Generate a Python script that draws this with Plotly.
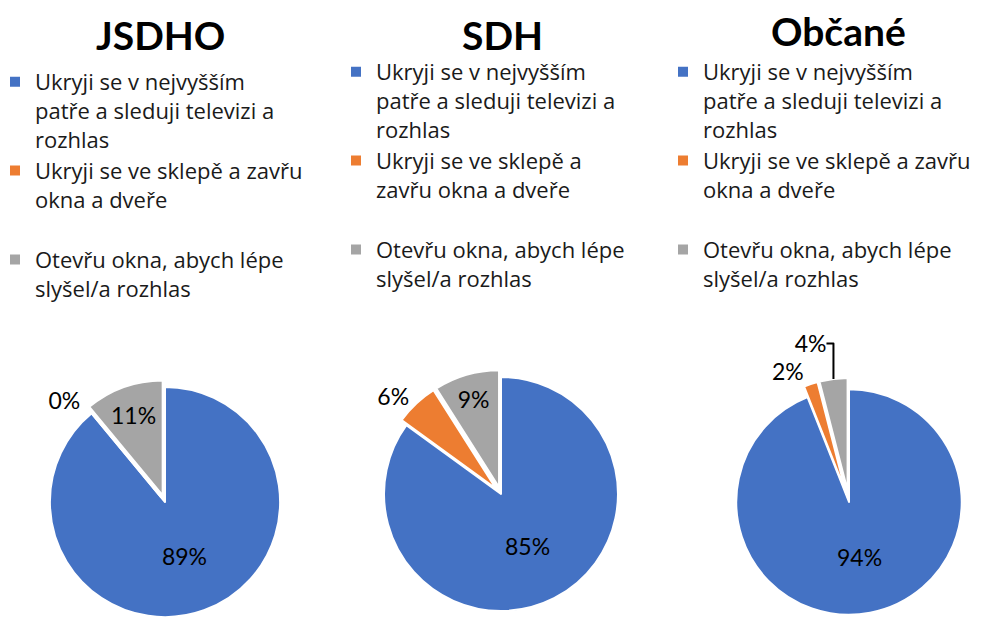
import plotly.graph_objects as go

# ---- data ----
chart_titles = ["JSDHO", "SDH", "Občané"]
categories = [
    "Ukryji se v nejvyšším patře a sleduji televizi a rozhlas",
    "Ukryji se ve sklepě a zavřu okna a dveře",
    "Otevřu okna, abych lépe slyšel/a rozhlas",
]
# legend texts as wrapped in each chart
legend_jsdho = [
    "Ukryji se v nejvyšším<br>patře a sleduji televizi a<br>rozhlas",
    "Ukryji se ve sklepě a zavřu<br>okna a dveře<br> ",
    "Otevřu okna, abych lépe<br>slyšel/a rozhlas<br> ",
]
legend_sdh = [
    "Ukryji se v nejvyšším<br>patře a sleduji televizi a<br>rozhlas",
    "Ukryji se ve sklepě a<br>zavřu okna a dveře<br> ",
    "Otevřu okna, abych lépe<br>slyšel/a rozhlas<br> ",
]
legend_obcane = [
    "Ukryji se v nejvyšším<br>patře a sleduji televizi a<br>rozhlas",
    "Ukryji se ve sklepě a zavřu<br>okna a dveře<br> ",
    "Otevřu okna, abych lépe<br>slyšel/a rozhlas<br> ",
]
values_jsdho = [89, 0, 11]
values_sdh = [85, 6, 9]
values_obcane = [94, 2, 4]

colors = ["#4472C4", "#ED7D31", "#A5A5A5"]
W, H = 987, 618
FONT = "Lato"
LEGFONT = "Open Sans"

def dom(cx, cy, half):
    return dict(x=[(cx - half) / W, (cx + half) / W],
                y=[max(0, 1 - (cy + half) / H), 1 - (cy - half) / H])

# make legend entries unique per chart (pie legends share labels otherwise)
def uniq(labels, k):
    return [l + "\u200b" * k for l in labels]

fig = go.Figure()
specs = [
    (uniq(legend_jsdho, 0), values_jsdho, "legend", dom(157, 494, 122), [0, 0.06, 0.06]),
    (uniq(legend_sdh, 1), values_sdh, "legend2", dom(493, 486, 124), [0, 0.06, 0.06]),
    (uniq(legend_obcane, 2), values_obcane, "legend3", dom(841, 494, 124), [0, 0.1, 0.1]),
]
for labels, vals, leg, d, pull in specs:
    fig.add_trace(go.Pie(
        labels=labels, values=vals, sort=False, direction="clockwise",
        rotation=0, domain=d, pull=pull, legend=leg,
        marker=dict(colors=colors, line=dict(color="white", width=2)),
        textinfo="percent", texttemplate="%{percent:.0%}",
        textposition="auto", insidetextorientation="horizontal",
        textfont=dict(family=FONT, size=23, color="black"),
        outsidetextfont=dict(family=FONT, size=23, color="black"),
        insidetextfont=dict(family=FONT, size=23, color="black"),
        hoverinfo="percent",
    ))

leg_common = dict(font=dict(family=LEGFONT, size=22, color="#1a1a1a"),
                  bgcolor="rgba(0,0,0,0)", borderwidth=0, valign="top",
                  xanchor="left", yanchor="top", traceorder="normal",
                  itemclick=False, itemdoubleclick=False)
fig.update_layout(
    width=W, height=H,
    margin=dict(l=0, r=0, t=0, b=0, autoexpand=False),
    paper_bgcolor="white", plot_bgcolor="white",
    showlegend=True,
    legend=dict(x=-13 / W, y=1 - 53 / H, **leg_common),
    legend2=dict(x=328 / W, y=1 - 43 / H, **leg_common),
    legend3=dict(x=655 / W, y=1 - 43 / H, **leg_common),
)

title_pos = [(152, 27), (494, 27), (830, 23)]
for t, (x, y) in zip(chart_titles, title_pos):
    fig.add_annotation(text="<b>" + t + "</b>", x=x / W, y=1 - y / H,
                       xref="paper", yref="paper", showarrow=False,
                       xanchor="center", yanchor="middle",
                       font=dict(family=FONT, size=39, color="black"))

fig.write_html("out.html")
